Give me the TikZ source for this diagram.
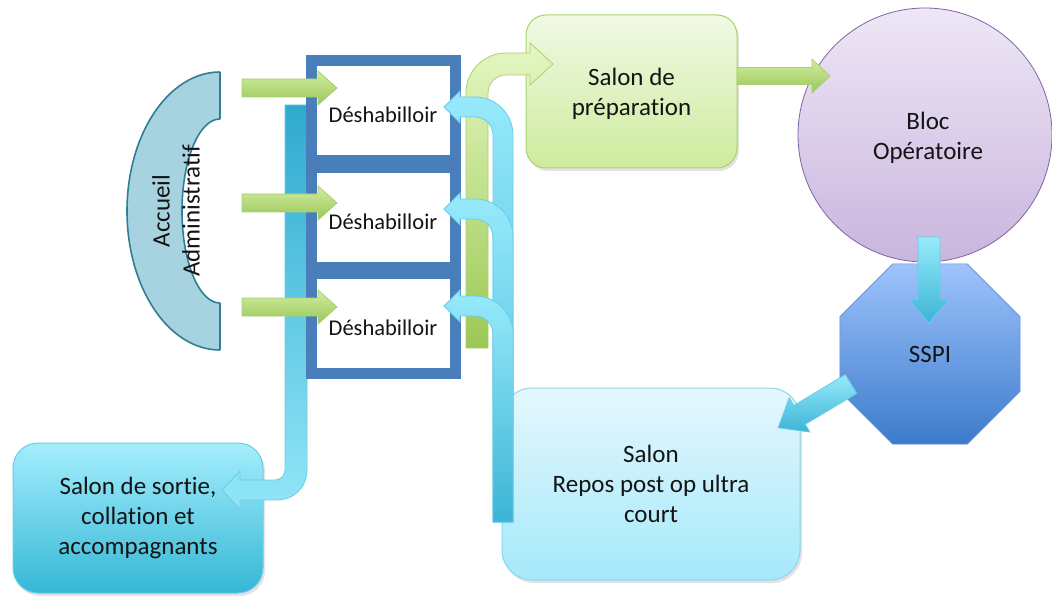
\documentclass[tikz,border=0pt]{standalone}
\usepackage{fontspec}
\setmainfont{Carlito}[Ligatures=NoCommon]
\usetikzlibrary{shapes.geometric,shadows}

\definecolor{frameblue}{HTML}{4A7EBB}
\definecolor{accfill}{HTML}{A6D3DF}
\definecolor{accline}{HTML}{2E7F96}
\definecolor{grnA}{HTML}{D3ED9F}
\definecolor{grnB}{HTML}{98C65A}
\definecolor{grnE}{HTML}{A9D071}
\definecolor{grnTop}{HTML}{E4F7C2}
\definecolor{grnBot}{HTML}{9CC853}
\definecolor{cyA}{HTML}{97EAFB}
\definecolor{cyB}{HTML}{3CB4D5}
\definecolor{cyE}{HTML}{6ACDE6}
\definecolor{exitTop}{HTML}{2FAACF}
\definecolor{exitBot}{HTML}{92E6F8}
\definecolor{sortieTop}{HTML}{A4EEFC}
\definecolor{sortieBot}{HTML}{35B7D6}
\definecolor{reposTop}{HTML}{E4F7FD}
\definecolor{reposBot}{HTML}{A6E9FB}
\definecolor{prepTop}{HTML}{F1F9E4}
\definecolor{prepBot}{HTML}{CEEB9E}
\definecolor{blocTop}{HTML}{EEE7F6}
\definecolor{blocBot}{HTML}{C9B5DE}
\definecolor{blocLine}{HTML}{8064A2}
\definecolor{sspiTop}{HTML}{9DC3FB}
\definecolor{sspiBot}{HTML}{3D7BCC}
\definecolor{sspiLine}{HTML}{608ED4}

% straight block arrow: style, tail, angle, length, shaft width, head width, head length
\newcommand\blockarrow[7]{%
  \path[#1,shift={#2},rotate=#3]
    (0,-#5/2) -- ({#4-#7},-#5/2) -- ({#4-#7},-#6/2) -- (#4,0)
    -- ({#4-#7},#6/2) -- ({#4-#7},#5/2) -- (0,#5/2) -- cycle;}

% bent arrow rising from the recovery room and turning left into a cubicle at height #1
\newcommand\returnarrow[1]{%
  \path[cyanarrow]
    (493,522) -- (493,#1+28) .. controls (493,#1+18) and (485,#1+10) .. (475,#1+10)
    -- (460,#1+10) -- (460,#1+16) -- (444,#1) -- (460,#1-16) -- (460,#1-10)
    -- (475,#1-10) .. controls (496,#1-10) and (513,#1+7) .. (513,#1+28)
    -- (513,522) -- cycle;}

\tikzset{
  lbl/.style={font=\fontsize{25}{30}\selectfont, text=black!92, align=center, inner sep=0pt},
  room/.style={draw=frameblue, line width=11pt, fill=white, minimum width=144pt,
    minimum height=100pt, font=\fontsize{22.5}{27}\selectfont, text=black!92, inner sep=0pt},
  greenarrow/.style={top color=grnA, bottom color=grnB, draw=grnE, line width=0.8pt},
  cyanarrow/.style={top color=cyA, bottom color=cyB, draw=cyE, line width=0.8pt},
  softshadow/.style={drop shadow={opacity=0.22, shadow xshift=2pt, shadow yshift=-3pt}},
  salon/.style={lbl, rectangle, softshadow, line width=1pt},
}

\begin{document}
\begin{tikzpicture}[x=1pt,y=-1pt]
\useasboundingbox[fill=white] (0,0) rectangle (1052,596);

% reception desk: half ring opening to the right
\begin{scope}
  \clip (100,60) rectangle (220,360);
  \fill[accfill, even odd rule] (220,211) ellipse [x radius=93, y radius=139]
                                (220,211) ellipse [x radius=38, y radius=92];
  \draw[accline, line width=1.6pt] (220,211) ellipse [x radius=93, y radius=139];
  \draw[accline, line width=1.6pt] (220,211) ellipse [x radius=38, y radius=92];
\end{scope}
\draw[accline, line width=1.6pt] (220,72) -- (220,119) (220,303) -- (220,350);
\node[lbl, rotate=90] (accueil) at (176,211) {Accueil\\Administratif};

% exit lounge and the exit path down the left side
\node[salon, draw=cyE, top color=sortieTop, bottom color=sortieBot,
      minimum width=250pt, minimum height=150pt, rounded corners=25pt]
      (sortie) at (138,518) {Salon de sortie,\\collation et\\accompagnants};
\path[top color=exitTop, bottom color=exitBot, draw=cyE, line width=0.8pt]
  (285,105) -- (307,105) -- (307,470) .. controls (307,487) and (294,500) .. (277,500)
  -- (240,500) -- (240,509) -- (222,490) -- (240,471) -- (240,480) -- (275,480)
  .. controls (280.5,480) and (285,475.5) .. (285,470) -- cycle;

% changing cubicles
\node[room] (d1) at (383,111) {};
\node[room] (d2) at (383,217.5) {};
\node[room] (d3) at (383,323.5) {};
\foreach \n in {d1,d2,d3}
  \node[font=\fontsize{22.5}{27}\selectfont, text=black!92] at ([yshift=-4pt]\n.center) {Déshabilloir};

% entries from the reception desk
\blockarrow{greenarrow}{(242,88)}{0}{95}{18}{34}{19}
\blockarrow{greenarrow}{(242,203)}{0}{95}{18}{34}{19}
\blockarrow{greenarrow}{(242,307)}{0}{95}{18}{34}{19}

% recovery lounge and preparation lounge
\node[salon, draw=cyE!80, top color=reposTop, bottom color=reposBot,
      minimum width=298pt, minimum height=192pt, rounded corners=30pt]
      (repos) at (651,484) {Salon\\Repos post op ultra\\court};
\node[salon, draw=grnE, top color=prepTop, bottom color=prepBot,
      minimum width=211pt, minimum height=153pt, rounded corners=20pt, text depth=-4pt]
      (prep) at (631.5,91.5) {Salon de\\préparation};

% path from the cubicles up to the preparation lounge
\path[top color=grnTop, bottom color=grnBot, draw=grnE, line width=0.8pt]
  (466,348) -- (466,93) .. controls (466,71) and (484,53) .. (506,53) -- (530,53)
  -- (530,43) -- (553,64) -- (530,85) -- (530,75) -- (506,75)
  .. controls (496,75) and (488,83) .. (488,93) -- (488,348) -- cycle;

% returns from the recovery lounge to each cubicle
\returnarrow{107}
\returnarrow{209}
\returnarrow{306}

% operating theatre
\node[circle, draw=blocLine, line width=0.8pt, top color=blocTop, bottom color=blocBot,
      minimum size=254pt] (bloc) at (925,135) {};
\node[lbl] at ([xshift=3pt,yshift=-3pt]bloc.center) {Bloc\\Opératoire};
\blockarrow{greenarrow}{(737,76)}{0}{93}{17}{34}{18}

% recovery room
\node[lbl, regular polygon, regular polygon sides=8, minimum size=195pt,
      draw=sspiLine, line width=0.6pt, top color=sspiTop, bottom color=sspiBot]
      (sspi) at (930,354) {SSPI};
\blockarrow{cyanarrow}{(929,237)}{-90}{86}{22}{39}{23}
\blockarrow{cyanarrow}{(851,384)}{-149}{85}{22}{40}{25}
\end{tikzpicture}
\end{document}
